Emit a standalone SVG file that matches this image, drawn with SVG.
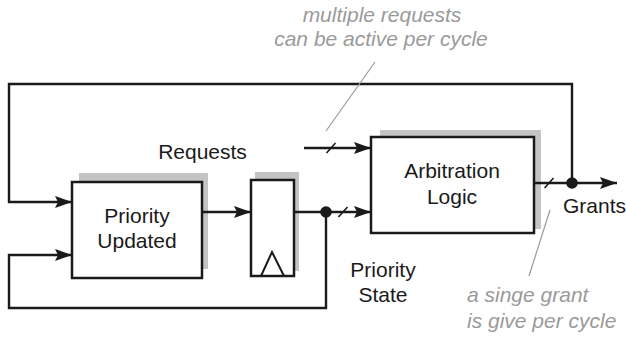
<svg xmlns="http://www.w3.org/2000/svg" width="626" height="338" viewBox="0 0 626 338">
  <style>
    .box { fill: #ffffff; stroke: #1a1a1a; stroke-width: 2.5; }
    .shadow { fill: #c4c4c4; stroke: none; }
    .wire { fill: none; stroke: #1a1a1a; stroke-width: 2.4; }
    .slash { stroke: #1a1a1a; stroke-width: 1.6; }
    .dot { fill: #1a1a1a; }
    .label { font-family: "Liberation Sans", Arial, sans-serif; font-size: 21px; fill: #1a1a1a; }
    .note { font-family: "Liberation Sans", Arial, sans-serif; font-size: 21px; font-style: italic; fill: #9a9a9a; }
    .leader { stroke: #9a9a9a; stroke-width: 1.2; fill: none; }
  </style>
  <defs>
    <marker id="arrow" viewBox="0 0 17 12" refX="17" refY="6" markerWidth="17" markerHeight="12" markerUnits="userSpaceOnUse" orient="auto">
      <path d="M0,0 L17,6 L0,12 L3,6 z" fill="#1a1a1a"/>
    </marker>
  </defs>

  <rect width="626" height="338" fill="#ffffff"/>

  <!-- priority update logic -->
  <g id="priority-updated">
    <rect class="shadow" x="79" y="173" width="129" height="96"/>
    <rect class="box" x="72" y="182" width="130" height="96"/>
    <text class="label" x="137" y="223" text-anchor="middle">Priority</text>
    <text class="label" x="137" y="248" text-anchor="middle">Updated</text>
  </g>

  <!-- priority state register -->
  <g id="register">
    <rect class="shadow" x="255" y="172" width="44" height="99"/>
    <rect class="box" x="251" y="180" width="43" height="96"/>
    <polyline points="261,276 272,252 284,276" fill="none" stroke="#1a1a1a" stroke-width="2"/>
  </g>

  <!-- arbiter -->
  <g id="arbitration-logic">
    <rect class="shadow" x="380" y="130" width="161" height="99"/>
    <rect class="box" x="371" y="137" width="163" height="96"/>
    <text class="label" x="452" y="178" text-anchor="middle">Arbitration</text>
    <text class="label" x="452" y="203.5" text-anchor="middle">Logic</text>
  </g>

  <!-- wiring -->
  <g id="connectors">
    <path class="wire" d="M572,183 V84 H9 V202 H72" marker-end="url(#arrow)"/>
    <path class="wire" d="M326,212 V308 H9 V255 H72" marker-end="url(#arrow)"/>
    <path class="wire" d="M202,212 H251" marker-end="url(#arrow)"/>
    <path class="wire" d="M294,212 H371" marker-end="url(#arrow)"/>
    <path class="wire" d="M304,148 H371" marker-end="url(#arrow)"/>
    <path class="wire" d="M534,183 H617" marker-end="url(#arrow)"/>
    <circle class="dot" cx="326" cy="212" r="5.8"/>
    <circle class="dot" cx="572" cy="183" r="5.8"/>
    <line class="slash" x1="326.5" y1="153" x2="335.5" y2="143"/>
    <line class="slash" x1="338.5" y1="217" x2="347.5" y2="207"/>
    <line class="slash" x1="544.5" y1="188" x2="553.5" y2="178"/>
  </g>

  <!-- signal labels -->
  <g id="signal-labels">
    <text class="label" x="202.5" y="159" text-anchor="middle">Requests</text>
    <text class="label" x="383" y="277" text-anchor="middle">Priority</text>
    <text class="label" x="383" y="302" text-anchor="middle">State</text>
    <text class="label" x="563" y="213">Grants</text>
  </g>

  <!-- annotations -->
  <g id="annotations">
    <text class="note" x="382" y="22" text-anchor="middle">multiple requests</text>
    <text class="note" x="381" y="46" text-anchor="middle">can be active per cycle</text>
    <line class="leader" x1="375" y1="62" x2="326" y2="131"/>
    <text class="note" x="467" y="302">a singe grant</text>
    <text class="note" x="467" y="328">is give per cycle</text>
    <line class="leader" x1="550" y1="210" x2="529" y2="276"/>
  </g>
</svg>
